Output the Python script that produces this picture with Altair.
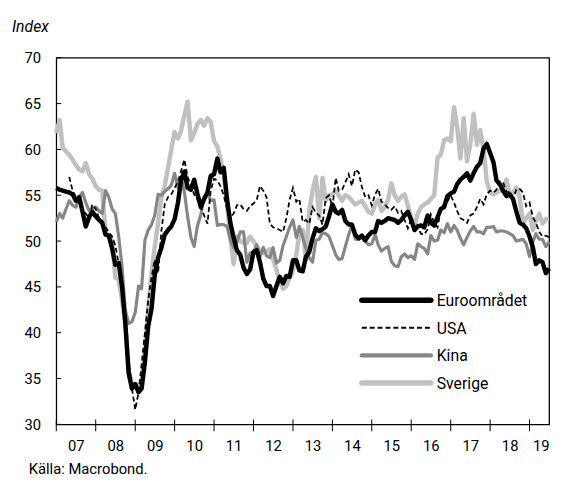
import altair as alt
import pandas as pd

FONT = "Roboto, Lato, sans-serif"

months = pd.date_range("2007-01-01", periods=151, freq="MS")

euro = (
    [55.8, 55.6, 55.5, 55.4, 55.3, 55.1, 54.4, 54.8, 53.2, 51.6, 52.6, 53.2]
    + [52.7, 52.3, 52.0, 50.7, 50.6, 49.2, 47.4, 47.6, 45.0, 41.1, 35.6, 33.9]
    + [34.4, 33.5, 33.9, 36.8, 40.7, 42.6, 46.3, 48.2, 49.3, 50.7, 51.2, 51.6]
    + [52.4, 54.2, 56.6, 57.6, 55.8, 55.6, 56.7, 55.1, 53.7, 54.6, 55.3, 57.1]
    + [57.3, 59.0, 57.5, 58.0, 54.6, 52.0, 50.4, 49.0, 48.5, 47.1, 46.4, 46.9]
    + [48.8, 49.0, 47.7, 45.9, 45.1, 45.1, 44.0, 45.1, 46.1, 45.4, 46.2, 46.1]
    + [47.9, 47.9, 46.8, 46.7, 48.3, 48.8, 50.3, 51.4, 51.1, 51.3, 51.6, 52.7]
    + [54.0, 53.2, 53.0, 53.4, 52.2, 51.8, 51.8, 50.7, 50.3, 50.6, 50.1, 50.6]
    + [51.0, 51.0, 52.2, 52.0, 52.2, 52.5, 52.4, 52.3, 52.0, 52.3, 52.8, 53.2]
    + [52.3, 51.2, 51.6, 51.7, 51.5, 52.8, 52.0, 51.7, 52.6, 53.5, 53.7, 54.9]
    + [55.2, 55.4, 56.2, 56.7, 57.0, 57.4, 56.6, 57.4, 58.1, 58.5, 60.1, 60.6]
    + [59.6, 58.6, 56.6, 56.2, 55.5, 54.9, 55.1, 54.6, 53.2, 52.0, 51.8, 51.4]
    + [50.5, 49.3, 47.5, 47.9, 47.7, 46.5, 47.0]
)

usa = (
    [None, None, None, None, 57.0, 55.5, 54.8, 54.0, 53.5, 53.0, 52.5, 54.0]
    + [53.5, 52.5, 52.0, 51.5, 51.0, 50.5, 49.5, 47.5, 45.5, 41.5, 37.0, 34.0]
    + [31.6, 33.5, 36.5, 40.0, 43.5, 46.0, 48.0, 46.5, 51.2, 54.0, 54.8, 55.1]
    + [55.8, 56.5, 57.6, 58.9, 57.0, 56.0, 55.1, 54.5, 53.7, 52.8, 51.9, 55.5]
    + [56.8, 56.6, 56.0, 55.0, 53.5, 52.6, 53.0, 53.9, 54.0, 53.5, 53.3, 53.8]
    + [54.1, 54.5, 56.0, 55.5, 54.8, 51.9, 51.5, 51.4, 51.2, 51.0, 52.5, 54.5]
    + [55.8, 54.3, 54.6, 52.1, 52.3, 51.9, 53.7, 53.1, 52.8, 51.8, 54.7, 55.0]
    + [53.7, 56.9, 55.5, 55.6, 56.4, 57.3, 56.0, 57.8, 57.5, 55.9, 54.8, 55.0]
    + [53.9, 55.1, 55.7, 54.3, 54.0, 53.6, 53.4, 53.8, 53.1, 53.3, 52.3, 51.4]
    + [52.4, 51.3, 51.5, 50.8, 50.7, 51.3, 52.9, 52.0, 51.5, 53.4, 54.1, 54.3]
    + [55.0, 54.2, 53.3, 52.5, 52.3, 52.0, 52.8, 53.0, 53.7, 54.6, 54.0, 55.1]
    + [55.5, 55.3, 55.6, 56.5, 56.4, 55.4, 55.3, 54.7, 55.6, 55.7, 55.3, 53.8]
    + [54.2, 52.6, 52.0, 51.0, 50.5, 50.6, 50.4]
)

kina = (
    [52.1, 53.0, 52.5, 53.5, 54.4, 53.9, 53.7, 54.8, 55.3, 54.2, 53.3, 53.5]
    + [53.7, 53.3, 53.0, 55.5, 54.8, 53.5, 53.0, 50.5, 47.2, 42.5, 41.0, 41.2]
    + [42.2, 45.1, 44.8, 50.1, 51.2, 51.8, 52.8, 55.1, 55.0, 55.4, 55.7, 56.1]
    + [57.4, 55.8, 57.0, 55.4, 52.7, 50.4, 49.4, 51.7, 52.9, 54.8, 55.3, 54.4]
    + [54.5, 51.7, 51.8, 51.8, 51.6, 50.1, 49.3, 49.9, 51.0, 51.0, 47.7, 48.7]
    + [48.8, 49.6, 48.3, 49.3, 48.4, 48.2, 49.3, 47.6, 47.9, 49.5, 50.5, 51.5]
    + [52.3, 50.4, 51.6, 50.4, 49.2, 48.2, 47.7, 50.1, 50.2, 50.9, 50.8, 50.5]
    + [49.5, 48.5, 48.0, 48.1, 49.4, 50.7, 51.7, 50.2, 50.2, 50.4, 50.0, 49.6]
    + [49.7, 50.7, 49.6, 48.9, 49.2, 49.4, 47.8, 47.3, 47.2, 48.3, 48.6, 48.2]
    + [48.4, 48.0, 49.7, 49.4, 49.2, 48.6, 50.6, 50.0, 50.1, 51.2, 50.9, 51.9]
    + [51.0, 51.7, 51.2, 50.3, 49.6, 50.4, 51.1, 51.6, 51.0, 51.0, 50.8, 51.5]
    + [51.5, 51.6, 51.0, 51.1, 51.1, 51.0, 50.8, 50.6, 50.0, 50.1, 50.2, 49.7]
    + [48.3, 49.9, 50.8, 50.2, 50.2, 49.4, 49.9]
)

sverige = (
    [61.8, 63.2, 60.2, 59.8, 59.4, 58.9, 58.3, 57.8, 57.6, 58.5, 57.3, 56.8]
    + [56.0, 55.6, 55.5, 51.0, 50.5, 50.0, 46.0, 45.8, 43.5, 41.0, 36.0, 34.5]
    + [34.2, 34.3, 34.5, 38.0, 42.6, 46.5, 49.4, 52.0, 54.8, 56.0, 58.0, 60.0]
    + [61.9, 61.2, 62.0, 63.7, 65.2, 61.0, 61.8, 62.8, 63.2, 62.6, 63.4, 63.0]
    + [60.9, 60.3, 59.0, 57.3, 54.0, 50.5, 47.5, 50.5, 50.0, 49.8, 49.8, 50.5]
    + [50.0, 49.4, 49.0, 48.7, 48.9, 49.1, 48.0, 46.9, 45.5, 44.8, 45.1, 46.0]
    + [46.8, 48.5, 50.8, 51.2, 48.0, 53.3, 55.5, 57.0, 52.5, 56.9, 54.4, 55.0]
    + [55.1, 55.5, 55.0, 54.4, 55.0, 54.8, 54.4, 54.0, 54.2, 54.4, 53.8, 53.2]
    + [53.0, 54.0, 54.5, 53.3, 53.7, 54.5, 56.3, 55.0, 54.4, 54.8, 55.1, 53.9]
    + [52.5, 51.5, 53.0, 53.7, 54.0, 54.2, 54.6, 55.0, 59.1, 59.4, 61.0, 61.2]
    + [60.9, 64.6, 62.5, 59.0, 63.4, 58.7, 60.5, 63.9, 60.5, 62.1, 60.0, 56.5]
    + [55.3, 55.1, 55.3, 55.5, 55.5, 56.7, 55.1, 55.3, 55.8, 54.8, 51.9, 52.5]
    + [53.0, 51.2, 52.2, 53.0, 51.9, 52.4, 52.4]
)

series_names = ["Euroområdet", "USA", "Kina", "Sverige"]
y_ticks = [30, 35, 40, 45, 50, 55, 60, 65, 70]
tick_years = list(range(2007, 2020))
label_years = list(range(2007, 2020))

df = pd.DataFrame({"date": months, "euro": euro, "usa": usa, "kina": kina, "sverige": sverige})
year_ticks_df = pd.DataFrame({"date": pd.to_datetime([f"{y}-01-01" for y in tick_years])})
y_ticks_df = pd.DataFrame({"v": y_ticks})

xscale = alt.Scale(domain=[alt.DateTime(year=2007, month=1, date=1),
                           alt.DateTime(year=2019, month=7, date=1)])
label_vals = [alt.DateTime(year=y, month=7, date=1) for y in label_years[:-1]] + \
             [alt.DateTime(year=2019, month=4, date=15)]
xaxis = alt.Axis(values=label_vals, labelExpr="timeFormat(datum.value, '%y')",
                 ticks=False, domain=False, grid=False, labelPadding=14,
                 labelFontSize=15, labelFont=FONT, labelColor="black",
                 title=None, labelAngle=0, labelFlush=False, labelOverlap=False)
yscale = alt.Scale(domain=[30, 70], nice=False, zero=False)
yaxis = alt.Axis(values=y_ticks, ticks=False, domain=False, grid=False,
                 labelPadding=16, labelFontSize=15, labelFont=FONT,
                 labelColor="black", title=None)

X = alt.X("date:T", scale=xscale, axis=xaxis)


def Y(field):
    return alt.Y(f"{field}:Q", scale=yscale, axis=yaxis)


base = alt.Chart(df)
sv_line = base.mark_line(color="#c0c0c0", strokeWidth=4.5, strokeJoin="round").encode(x=X, y=Y("sverige"))
ki_line = base.mark_line(color="#868686", strokeWidth=3.2, strokeJoin="round").encode(x=X, y=Y("kina"))
eu_line = base.mark_line(color="black", strokeWidth=4.5, strokeJoin="round").encode(x=X, y=Y("euro"))
us_line = base.mark_line(color="black", strokeWidth=1.8, strokeDash=[5, 3]).encode(x=X, y=Y("usa"))

xt = alt.Chart(year_ticks_df).mark_rule(color="black", strokeWidth=1).encode(
    x=X, y=alt.value(367), y2=alt.value(379))
yt = alt.Chart(y_ticks_df).mark_rule(color="black", strokeWidth=1).encode(
    y=alt.Y("v:Q", scale=yscale, axis=yaxis), x=alt.value(0), x2=alt.value(5))

legend_styles = [
    ("black", 5.5, None, 246),
    ("black", 2.0, [5, 3], 274),
    ("#868686", 4.5, None, 302),
    ("#c0c0c0", 5.5, None, 330),
]
legend_layers = []
for name, (col, w, dash, ypos) in zip(series_names, legend_styles):
    ldf = pd.DataFrame({"label": [name]})
    kw = dict(color=col, strokeWidth=w, strokeCap="round" if dash is None else "butt")
    if dash is not None:
        kw["strokeDash"] = dash
    legend_layers.append(alt.Chart(ldf).mark_rule(**kw).encode(
        x=alt.value(310), x2=alt.value(380), y=alt.value(ypos)))
    legend_layers.append(alt.Chart(ldf).mark_text(
        align="left", baseline="middle", fontSize=16, font=FONT, color="black").encode(
        x=alt.value(386), y=alt.value(ypos + 1), text="label:N"))

index_txt = alt.Chart(pd.DataFrame({"t": ["Index"]})).mark_text(
    align="left", baseline="alphabetic", fontSize=16, font=FONT, fontStyle="italic",
    color="black").encode(x=alt.value(-45), y=alt.value(-26), text="t:N")
source_txt = alt.Chart(pd.DataFrame({"t": ["Källa: Macrobond."]})).mark_text(
    align="left", baseline="alphabetic", fontSize=15, font=FONT,
    color="black").encode(x=alt.value(-28), y=alt.value(422), text="t:N")

chart = alt.layer(
    xt, yt, sv_line, ki_line, eu_line, us_line, *legend_layers, index_txt, source_txt
).properties(
    width=500, height=372,
    autosize=alt.AutoSizeParams(type="none"),
    padding={"left": 49, "top": 47, "right": 6, "bottom": 58},
    background="white",
).configure_view(stroke="black", strokeWidth=1.3)

chart.save("out.html", embed_options={"renderer": "svg", "actions": False})
